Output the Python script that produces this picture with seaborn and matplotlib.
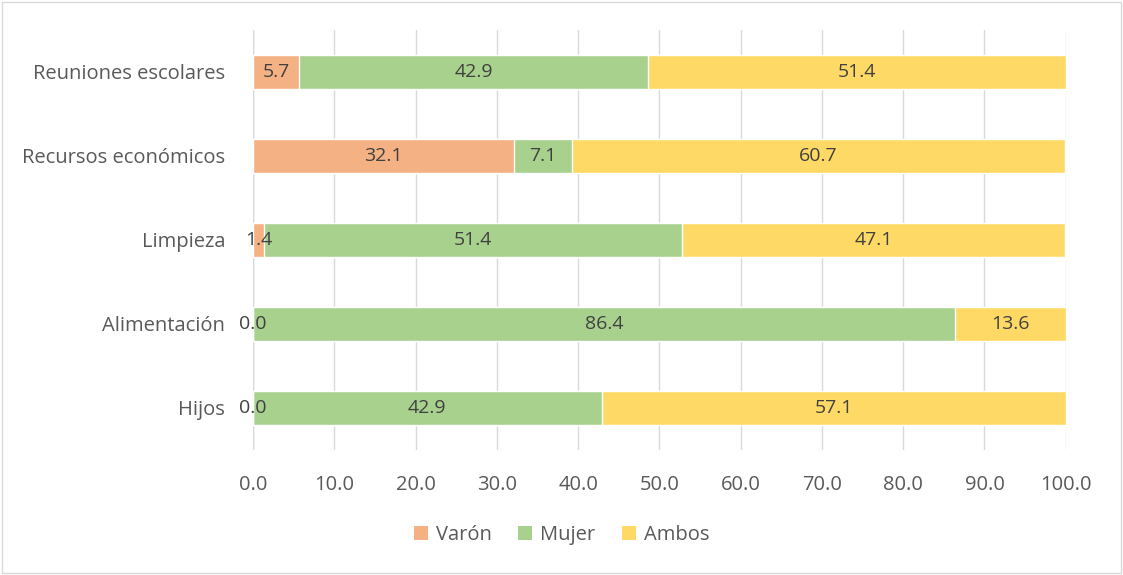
import numpy as np
import pandas as pd
import seaborn as sns
import matplotlib.pyplot as plt
from matplotlib.patches import Patch, Rectangle

# data (top to bottom)
categories = ['Reuniones escolares', 'Recursos económicos', 'Limpieza', 'Alimentación', 'Hijos']
varon = [5.7, 32.1, 1.4, 0.0, 0.0]
mujer = [42.9, 7.1, 51.4, 86.4, 42.9]
ambos = [51.4, 60.7, 47.1, 13.6, 57.1]
series_names = ['Varón', 'Mujer', 'Ambos']
colors = ['#F4B183', '#A9D18E', '#FFD966']

sns.set_theme(style='white')
plt.rcParams['font.family'] = ['Open Sans', 'DejaVu Sans']

df = pd.DataFrame({'cat': categories, 'Varón': varon, 'Mujer': mujer, 'Ambos': ambos})
df['c1'] = df['Varón']
df['c2'] = df['Varón'] + df['Mujer']
df['c3'] = df['c2'] + df['Ambos']

fig = plt.figure(figsize=(11.23, 5.75), dpi=100)
ax = fig.add_axes([0.2253, 0.218, 0.7237, 0.73])

# stacked bars drawn as overlapping cumulative totals
for col, c in zip(['c3', 'c2', 'c1'], colors[::-1]):
    sns.barplot(data=df, y='cat', x=col, orient='h', color=c, width=0.405,
                saturation=1, ax=ax, zorder=3)

# value labels centred in each segment
for i, row in df.iterrows():
    starts = [0, row['c1'], row['c2']]
    for s, v in zip(starts, [row['Varón'], row['Mujer'], row['Ambos']]):
        ax.text(s + v / 2, i, '{:.1f}'.format(v), ha='center', va='center',
                fontsize=14, color='#404040', zorder=5)

ax.set_xlim(0, 100)
ax.set_ylim(4.5, -0.5)
ax.set_xticks(np.arange(0, 101, 10))
ax.set_xticklabels(['{:.1f}'.format(t) for t in np.arange(0, 101, 10)])
ax.grid(axis='x', color='#D9D9D9', linewidth=1, zorder=0)
ax.set_axisbelow(True)
for sp in ax.spines.values():
    sp.set_visible(False)
ax.axvline(0, color='#D9D9D9', linewidth=1, zorder=1)
ax.set_xlabel('')
ax.set_ylabel('')
ax.tick_params(axis='both', length=0, labelsize=14.5, labelcolor='#595959')
ax.tick_params(axis='x', pad=18)
ax.tick_params(axis='y', pad=20)

handles = [Patch(facecolor=c, edgecolor='none') for c in colors]
fig.legend(handles, series_names, loc='center', bbox_to_anchor=(0.5, 0.07), ncol=3,
           frameon=False, fontsize=14.5, handlelength=0.7, handleheight=0.7,
           handletextpad=0.4, columnspacing=1.3, labelcolor='#595959')

fig.patches.append(Rectangle((0.002, 0.003), 0.996, 0.994, transform=fig.transFigure,
                             fill=False, edgecolor='#D9D9D9', linewidth=1))

fig.savefig('out.png', dpi=100)
plt.close()
